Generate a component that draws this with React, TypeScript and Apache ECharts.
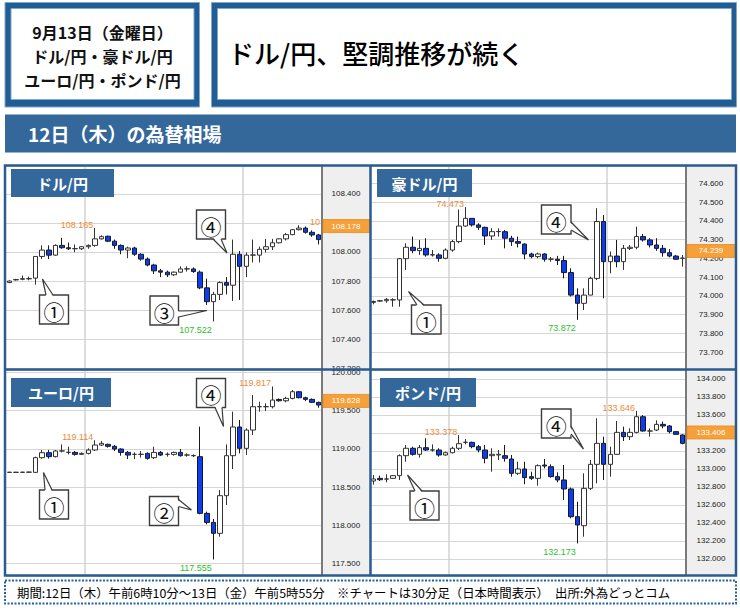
import React, { useEffect, useRef } from "react";
import * as echarts from "echarts";

// ---------------- DATA ----------------
const categories: string[] = [
  "12日 06:00", "12日 06:30", "12日 07:00", "12日 07:30", "12日 08:00", "12日 08:30", "12日 09:00", "12日 09:30",
  "12日 10:00", "12日 10:30", "12日 11:00", "12日 11:30", "12日 12:00", "12日 12:30", "12日 13:00", "12日 13:30",
  "12日 14:00", "12日 14:30", "12日 15:00", "12日 15:30", "12日 16:00", "12日 16:30", "12日 17:00", "12日 17:30",
  "12日 18:00", "12日 18:30", "12日 19:00", "12日 19:30", "12日 20:00", "12日 20:30", "12日 21:00", "12日 21:30",
  "12日 22:00", "12日 22:30", "12日 23:00", "12日 23:30", "13日 00:00", "13日 00:30", "13日 01:00", "13日 01:30",
  "13日 02:00", "13日 02:30", "13日 03:00", "13日 03:30", "13日 04:00", "13日 04:30", "13日 05:00", "13日 05:30",
];

// [open, close, low, high]
const usdJpy: number[][] = [
  [107.79, 107.8, 107.785, 107.805], [107.808, 107.81, 107.803, 107.815], [107.812, 107.816, 107.805, 107.838], [107.815, 107.817, 107.805, 107.83],
  [107.82, 107.969, 107.775, 107.972], [107.969, 108.013, 107.951, 108.045], [108.013, 107.978, 107.951, 108.045], [107.978, 108.045, 107.973, 108.052],
  [108.045, 108.029, 108.022, 108.097], [108.029, 108.022, 108.013, 108.065], [108.022, 108.023, 107.998, 108.051], [108.022, 108.036, 108.013, 108.04],
  [108.036, 108.045, 108.022, 108.052], [108.045, 108.09, 108.036, 108.165], [108.09, 108.105, 108.085, 108.115], [108.108, 108.074, 108.068, 108.112],
  [108.074, 108.045, 108.022, 108.085], [108.045, 108.013, 107.984, 108.052], [108.013, 108.027, 107.957, 108.036], [108.027, 107.984, 107.973, 108.036],
  [107.984, 107.951, 107.94, 107.991], [107.951, 107.91, 107.901, 107.962], [107.91, 107.87, 107.849, 107.919], [107.87, 107.861, 107.827, 107.883],
  [107.861, 107.843, 107.827, 107.872], [107.843, 107.861, 107.836, 107.865], [107.861, 107.883, 107.856, 107.901], [107.883, 107.884, 107.865, 107.901],
  [107.883, 107.865, 107.856, 107.894], [107.861, 107.753, 107.744, 107.872], [107.753, 107.658, 107.636, 107.816], [107.658, 107.708, 107.522, 107.726],
  [107.708, 107.789, 107.67, 107.798], [107.789, 107.771, 107.708, 107.827], [107.771, 107.984, 107.663, 108.085], [107.984, 107.901, 107.67, 108.007],
  [107.901, 107.978, 107.827, 107.996], [107.978, 107.979, 107.928, 108.085], [107.978, 108.018, 107.928, 108.036], [108.018, 108.036, 107.996, 108.09],
  [108.036, 108.063, 108.013, 108.09], [108.063, 108.09, 108.058, 108.094], [108.09, 108.119, 108.079, 108.13], [108.119, 108.153, 108.115, 108.157],
  [108.153, 108.164, 108.148, 108.184], [108.164, 108.135, 108.126, 108.175], [108.135, 108.117, 108.104, 108.148], [108.117, 108.085, 108.052, 108.124],
];

const audJpy: number[][] = [
  [73.965, 73.97, 73.955, 73.975], [73.972, 73.974, 73.968, 73.978], [73.974, 73.981, 73.963, 73.989], [73.978, 73.979, 73.942, 73.987],
  [73.978, 74.198, 73.942, 74.202], [74.198, 74.259, 74.138, 74.28], [74.259, 74.241, 74.227, 74.316], [74.241, 74.253, 74.218, 74.298],
  [74.253, 74.218, 74.209, 74.307], [74.218, 74.219, 74.209, 74.244], [74.218, 74.2, 74.182, 74.227], [74.2, 74.244, 74.195, 74.253],
  [74.244, 74.289, 74.235, 74.298], [74.289, 74.372, 74.28, 74.46], [74.372, 74.413, 74.369, 74.473], [74.413, 74.378, 74.369, 74.413],
  [74.378, 74.365, 74.351, 74.387], [74.365, 74.319, 74.271, 74.369], [74.319, 74.342, 74.298, 74.36], [74.342, 74.343, 74.316, 74.36],
  [74.342, 74.307, 74.253, 74.351], [74.307, 74.289, 74.266, 74.32], [74.289, 74.28, 74.258, 74.316], [74.276, 74.223, 74.195, 74.28],
  [74.223, 74.209, 74.2, 74.23], [74.209, 74.223, 74.2, 74.23], [74.223, 74.195, 74.182, 74.227], [74.195, 74.196, 74.182, 74.207],
  [74.195, 74.188, 74.164, 74.213], [74.188, 74.124, 74.093, 74.213], [74.124, 74.004, 73.996, 74.147], [74.004, 73.96, 73.872, 74.04],
  [73.96, 74.004, 73.924, 74.04], [74.004, 74.093, 74.004, 74.102], [74.093, 74.396, 74.084, 74.467], [74.396, 74.182, 73.987, 74.431],
  [74.182, 74.212, 74.12, 74.236], [74.212, 74.182, 74.152, 74.298], [74.182, 74.253, 74.138, 74.271], [74.253, 74.259, 74.244, 74.271],
  [74.259, 74.316, 74.248, 74.369], [74.316, 74.298, 74.289, 74.33], [74.298, 74.271, 74.258, 74.307], [74.271, 74.253, 74.24, 74.307],
  [74.253, 74.23, 74.209, 74.271], [74.23, 74.212, 74.205, 74.249], [74.212, 74.195, 74.191, 74.218], [74.2, 74.201, 74.156, 74.218],
];

const eurJpy: number[][] = [
  [118.694, 118.695, 118.69, 118.7], [118.694, 118.695, 118.69, 118.7], [118.694, 118.696, 118.688, 118.702], [118.696, 118.697, 118.69, 118.703],
  [118.694, 118.886, 118.685, 118.899], [118.886, 118.951, 118.873, 118.986], [118.951, 118.899, 118.873, 118.986], [118.899, 118.973, 118.89, 118.986],
  [118.973, 118.974, 118.955, 119.06], [118.955, 118.956, 118.929, 119.029], [118.955, 118.929, 118.912, 118.973], [118.929, 118.942, 118.922, 118.955],
  [118.942, 118.986, 118.929, 119.008], [118.986, 119.051, 118.973, 119.114], [119.051, 119.073, 119.038, 119.104], [119.06, 119.034, 119.017, 119.069],
  [119.034, 118.999, 118.973, 119.051], [118.999, 118.955, 118.912, 119.008], [118.955, 118.92, 118.868, 118.973], [118.929, 118.93, 118.868, 118.955],
  [118.929, 118.93, 118.886, 118.973], [118.942, 118.877, 118.86, 118.955], [118.886, 118.955, 118.868, 119.029], [118.955, 118.92, 118.907, 118.973],
  [118.929, 118.93, 118.899, 118.955], [118.929, 118.955, 118.912, 118.964], [118.955, 118.912, 118.899, 118.999], [118.92, 118.921, 118.899, 118.942],
  [118.912, 118.913, 118.895, 118.929], [118.899, 118.158, 118.145, 119.291], [118.158, 118.04, 118.014, 118.18], [118.04, 117.897, 117.555, 118.084],
  [117.897, 118.389, 117.853, 118.463], [118.389, 118.912, 118.267, 119.06], [118.912, 119.287, 118.737, 119.487], [119.287, 119.008, 118.942, 119.378],
  [119.008, 119.247, 118.92, 119.269], [119.247, 119.552, 119.182, 119.705], [119.552, 119.553, 119.487, 119.617], [119.552, 119.553, 119.495, 119.596],
  [119.552, 119.639, 119.53, 119.817], [119.647, 119.63, 119.617, 119.661], [119.63, 119.661, 119.609, 119.683], [119.661, 119.748, 119.648, 119.77],
  [119.748, 119.67, 119.661, 119.757], [119.67, 119.648, 119.626, 119.683], [119.648, 119.609, 119.6, 119.661], [119.609, 119.574, 119.539, 119.617],
];

const gbpJpy: number[][] = [
  [132.867, 132.889, 132.826, 132.933], [132.896, 132.881, 132.867, 132.926], [132.888, 132.889, 132.852, 132.941], [132.896, 132.926, 132.889, 132.933],
  [132.926, 133.148, 132.878, 133.163], [133.148, 133.23, 133.081, 133.267], [133.23, 133.163, 133.148, 133.248], [133.163, 133.237, 133.126, 133.267],
  [133.237, 133.211, 133.2, 133.341], [133.211, 133.212, 133.193, 133.274], [133.211, 133.156, 133.137, 133.23], [133.156, 133.181, 133.148, 133.193],
  [133.181, 133.23, 133.174, 133.248], [133.23, 133.281, 133.211, 133.378], [133.296, 133.297, 133.274, 133.333], [133.296, 133.248, 133.23, 133.304],
  [133.248, 133.211, 133.185, 133.267], [133.211, 133.119, 133.063, 133.267], [133.148, 133.163, 132.97, 133.23], [133.156, 133.163, 133.1, 133.211],
  [133.148, 133.119, 133.081, 133.267], [133.111, 132.952, 132.915, 133.156], [132.952, 133.0, 132.933, 133.081], [133.0, 132.904, 132.83, 133.081],
  [132.915, 132.896, 132.878, 132.97], [132.896, 133.037, 132.815, 133.052], [133.044, 133.033, 133.007, 133.111], [133.026, 132.915, 132.904, 133.052],
  [132.915, 132.878, 132.852, 132.963], [132.878, 132.778, 132.656, 133.044], [132.778, 132.47, 132.452, 132.793], [132.47, 132.378, 132.173, 132.637],
  [132.37, 132.785, 132.248, 132.952], [132.785, 133.052, 132.767, 133.1], [133.052, 133.285, 132.841, 133.563], [133.285, 133.052, 132.878, 133.359],
  [133.052, 133.163, 132.915, 133.248], [133.163, 133.407, 133.156, 133.533], [133.407, 133.359, 133.311, 133.47], [133.359, 133.407, 133.322, 133.452],
  [133.407, 133.581, 133.396, 133.646], [133.581, 133.422, 133.415, 133.6], [133.422, 133.423, 133.359, 133.452], [133.433, 133.496, 133.422, 133.541],
  [133.496, 133.478, 133.452, 133.526], [133.478, 133.415, 133.396, 133.489], [133.415, 133.385, 133.378, 133.422], [133.378, 133.285, 133.274, 133.385],
];

const pairTitles = ["ドル/円", "豪ドル/円", "ユーロ/円", "ポンド/円"];
const lastPrices = [108.178, 74.239, 119.628, 133.406];
const tickIntervals = [0.2, 0.1, 0.5, 0.2];
const axisMins = [107.195, 73.61, 117.339, 131.811];
const axisMaxs = [108.591, 74.692, 120.032, 134.1];
// [index, value, kind]  kind: hi / lo / cut
const priceMarks: [number, number, string][][] = [
  [[13, 108.165, "hi"], [31, 107.522, "lo"], [45, 108.184, "cut"]],
  [[14, 74.473, "hi"], [31, 73.872, "lo"]],
  [[13, 119.114, "hi"], [31, 117.555, "lo"], [40, 119.817, "hi"]],
  [[13, 133.378, "hi"], [31, 132.173, "lo"], [40, 133.646, "hi"]],
];
const seriesData = [usdJpy, audJpy, eurJpy, gbpJpy];

// ---------------- STYLE / LAYOUT ----------------
const FONT_JP = '"Noto Sans CJK JP", "Noto Sans", sans-serif';
const FONT_NUM = '"Liberation Sans", Arial, sans-serif';
const BLUE = "#34679a";
const FRAME = "#2a5c91";
const DARKBLUE = "#1f5d94";
const LIGHTEDGE = "#7fa6cb";
const ORANGE = "#f08a35";
const GREEN = "#2cc02c";

const grids = [
  { left: 6, top: 166, width: 316, height: 203 },
  { left: 370, top: 166, width: 316, height: 203 },
  { left: 6, top: 370, width: 316, height: 206 },
  { left: 370, top: 370, width: 316, height: 206 },
];
const axisAreas = [
  { x: 322, y: 166, w: 48, h: 203 },
  { x: 686, y: 166, w: 50, h: 203 },
  { x: 322, y: 370, w: 48, h: 206 },
  { x: 686, y: 370, w: 50, h: 206 },
];
const titleBoxes = [
  { x: 11, y: 169, w: 103, h: 28 },
  { x: 377, y: 169, w: 95, h: 28 },
  { x: 11, y: 378, w: 100, h: 29 },
  { x: 380, y: 378, w: 96, h: 29 },
];

type Callout = { box: number[]; side: string; b1: number; b2: number; tip: number[]; label: string };
const callouts: Callout[] = [
  { box: [39.5, 295, 29, 29], side: "top", b1: 46, b2: 53, tip: [42.5, 279], label: "①" },
  { box: [150, 296, 28.5, 29], side: "right", b1: 311, b2: 317, tip: [207, 310.5], label: "③" },
  { box: [196.5, 210, 29, 29], side: "bottom", b1: 213, b2: 221, tip: [227, 253], label: "④" },
  { box: [411.5, 305, 29.5, 29], side: "top", b1: 417, b2: 424, tip: [408.5, 291.5], label: "①" },
  { box: [541.5, 205, 29.5, 29], side: "right", b1: 222, b2: 230, tip: [588.5, 240], label: "④" },
  { box: [39.5, 490, 29, 29], side: "top", b1: 45, b2: 52, tip: [43.5, 472.5], label: "①" },
  { box: [149.5, 496.5, 29, 29], side: "right", b1: 499.5, b2: 506.5, tip: [191.5, 510], label: "②" },
  { box: [196.5, 378.5, 29, 29], side: "bottom", b1: 215, b2: 222, tip: [223.5, 426.5], label: "④" },
  { box: [410, 491, 29, 29], side: "top", b1: 415, b2: 422, tip: [407.5, 475], label: "①" },
  { box: [541.5, 409, 29.5, 29], side: "right", b1: 426, b2: 434, tip: [583.5, 449], label: "④" },
];

function calloutEls(c: Callout) {
  const [x, y, w, h] = c.box;
  let a: number[], b: number[], ai: number[], bi: number[];
  if (c.side === "top") { a = [c.b1, y]; b = [c.b2, y]; ai = [c.b1, y + 1.5]; bi = [c.b2, y + 1.5]; }
  else if (c.side === "bottom") { a = [c.b1, y + h]; b = [c.b2, y + h]; ai = [c.b1, y + h - 1.5]; bi = [c.b2, y + h - 1.5]; }
  else { a = [x + w, c.b1]; b = [x + w, c.b2]; ai = [x + w - 1.5, c.b1]; bi = [x + w - 1.5, c.b2]; }
  return [
    { type: "rect", z: 20, shape: { x, y, width: w, height: h }, style: { fill: "#fff", stroke: "#3c3c3c", lineWidth: 1.4 } },
    { type: "polygon", z: 21, shape: { points: [ai, c.tip, bi] }, style: { fill: "#fff", stroke: null } },
    { type: "polyline", z: 22, shape: { points: [a, c.tip, b] }, style: { stroke: "#3c3c3c", lineWidth: 1.2, fill: null } },
    {
      type: "text", z: 22,
      style: { text: c.label, x: x + w / 2, y: y + h / 2 + 1, align: "center", verticalAlign: "middle", fontSize: 21, fontFamily: FONT_JP, fill: "#111" },
    },
  ];
}

function baseGraphic(): any[] {
  const els: any[] = [];
  // header left box
  els.push({ type: "rect", z: 1, shape: { x: 5, y: 2.5, width: 194.5, height: 104.5 }, style: { fill: DARKBLUE, stroke: LIGHTEDGE, lineWidth: 1 } });
  els.push({ type: "rect", z: 1, shape: { x: 11, y: 8.5, width: 183, height: 91 }, style: { fill: "#fff", stroke: LIGHTEDGE, lineWidth: 1 } });
  const hl = ["9月13日（金曜日）", "ドル/円・豪ドル/円", "ユーロ/円・ポンド/円"];
  const hy = [31.5, 55.5, 79.5];
  hl.forEach((t, i) =>
    els.push({ type: "text", z: 2, style: { text: t, x: 102.5, y: hy[i], align: "center", verticalAlign: "middle", fontSize: 16, fontWeight: "bold", fontFamily: FONT_JP, fill: "#111" } })
  );
  // header right box
  els.push({ type: "rect", z: 1, shape: { x: 211.5, y: 2.5, width: 525, height: 104.5 }, style: { fill: DARKBLUE, stroke: LIGHTEDGE, lineWidth: 1 } });
  els.push({ type: "rect", z: 1, shape: { x: 217.5, y: 8.5, width: 514, height: 91 }, style: { fill: "#fff", stroke: LIGHTEDGE, lineWidth: 1 } });
  els.push({ type: "text", z: 2, style: { text: "ドル/円、堅調推移が続く", x: 228, y: 52, align: "left", verticalAlign: "middle", fontSize: 26, fontWeight: 500, fontFamily: FONT_JP, fill: "#000" } });
  // banner
  els.push({ type: "rect", z: 1, shape: { x: 5, y: 114.5, width: 731, height: 38 }, style: { fill: BLUE } });
  els.push({ type: "text", z: 2, style: { text: "12日（木）の為替相場", x: 28, y: 133.5, align: "left", verticalAlign: "middle", fontSize: 19, fontWeight: "bold", fontFamily: FONT_JP, fill: "#fff" } });
  // axis areas
  axisAreas.forEach((a) => {
    els.push({ type: "rect", z: -1, shape: { x: a.x, y: a.y, width: a.w, height: a.h }, style: { fill: "#efefef" } });
    els.push({ type: "line", z: 3, shape: { x1: a.x, y1: a.y, x2: a.x, y2: a.y + a.h }, style: { stroke: "#7a7a7a", lineWidth: 2 } });
  });
  // frame
  els.push({ type: "rect", z: 30, shape: { x: 5, y: 165.5, width: 731, height: 410 }, style: { fill: null, stroke: FRAME, lineWidth: 2.5 } });
  els.push({ type: "line", z: 30, shape: { x1: 5, y1: 369.5, x2: 736, y2: 369.5 }, style: { stroke: FRAME, lineWidth: 2.5 } });
  els.push({ type: "line", z: 30, shape: { x1: 370.5, y1: 165.5, x2: 370.5, y2: 575.5 }, style: { stroke: FRAME, lineWidth: 2.5 } });
  // panel titles
  titleBoxes.forEach((t, i) => {
    els.push({ type: "rect", z: 25, shape: { x: t.x, y: t.y, width: t.w, height: t.h }, style: { fill: BLUE } });
    els.push({
      type: "text", z: 26,
      style: { text: pairTitles[i], x: t.x + t.w / 2, y: t.y + t.h / 2, align: "center", verticalAlign: "middle", fontSize: 15, fontWeight: "bold", fontFamily: FONT_JP, fill: "#fff" },
    });
  });
  // callouts
  callouts.forEach((c) => els.push(...calloutEls(c)));
  // footer
  els.push({ type: "rect", z: 1, shape: { x: 5, y: 580.5, width: 731, height: 23 }, style: { fill: "#fff", stroke: "#2462a3", lineWidth: 2, lineDash: [2, 1.5] } });
  els.push({
    type: "text", z: 2,
    style: {
      text: "期間:12日（木）午前6時10分～13日（金）午前5時55分　※チャートは30分足（日本時間表示）　出所:外為どっとコム",
      x: 17, y: 592.5, align: "left", verticalAlign: "middle", fontSize: 12.4, fontFamily: FONT_JP, fill: "#000",
    },
  });
  return els;
}

function buildOption(): any {
  const xAxis = grids.map((_, i) => ({
    type: "category",
    gridIndex: i,
    data: categories,
    boundaryGap: true,
    axisLine: { show: false },
    axisTick: { show: false },
    axisLabel: { show: false },
    splitLine: { show: true, interval: (idx: number) => idx === 12 || idx === 36, lineStyle: { color: "#d2d2d2", width: 1.5 } },
  }));
  const yAxis = grids.map((_, i) => ({
    type: "value",
    gridIndex: i,
    position: "right",
    min: axisMins[i],
    max: axisMaxs[i],
    minInterval: tickIntervals[i],
    maxInterval: tickIntervals[i],
    scale: true,
    axisLine: { show: false },
    axisTick: { show: false },
    splitLine: { show: true, lineStyle: { color: "#d6d6d6", width: 1 } },
    axisLabel: {
      show: true,
      margin: i % 2 === 0 ? 24 : 25,
      align: "center",
      fontSize: 8,
      fontFamily: FONT_NUM,
      color: "#222",
      formatter: (v: number) => {
        const k = v / tickIntervals[i];
        return Math.abs(k - Math.round(k)) < 1e-6 ? v.toFixed(3) : "";
      },
    },
  }));
  const series = seriesData.map((d, i) => ({
    type: "candlestick",
    xAxisIndex: i,
    yAxisIndex: i,
    data: d,
    barWidth: 5,
    itemStyle: { color: "#ffffff", color0: "#0d3df2", borderColor: "#333333", borderColor0: "#1a1a1a", borderWidth: 1 },
    markPoint: {
      symbol: "circle",
      symbolSize: 1,
      itemStyle: { color: "rgba(0,0,0,0)" },
      data: priceMarks[i].map(([idx, val, kind]) => ({
        coord: [idx, val],
        value: val,
        label: {
          show: true,
          position: kind === "cut" ? "right" : "left",
          distance: kind === "cut" ? 4 : 1,
          offset: kind === "lo" ? [0, 8.5] : [0, -3],
          color: kind === "lo" ? GREEN : ORANGE,
          fontSize: 9,
          fontFamily: FONT_NUM,
          formatter: (p: any) => Number(p.value).toFixed(3),
          ...(kind === "cut" ? { width: 13, overflow: "truncate", ellipsis: "" } : {}),
        },
      })),
    },
  }));
  return {
    animation: false,
    backgroundColor: "#ffffff",
    grid: grids,
    xAxis,
    yAxis,
    series,
    graphic: baseGraphic(),
  };
}

export default function App() {
  const ref = useRef<HTMLDivElement>(null);
  useEffect(() => {
    if (!ref.current) return;
    const chart = echarts.init(ref.current, undefined, { renderer: "svg" });
    chart.setOption(buildOption());
    const markers: any[] = [];
    lastPrices.forEach((p, i) => {
      const py = chart.convertToPixel({ yAxisIndex: i } as any, p) as unknown as number;
      const a = axisAreas[i];
      markers.push({ type: "rect", z: 6, shape: { x: a.x + 1, y: py - 6.5, width: a.w - 1, height: 13 }, style: { fill: "#f6a03a", stroke: "#e98a1e", lineWidth: 0.8 } });
      markers.push({ type: "text", z: 7, style: { text: p.toFixed(3), x: a.x + a.w / 2, y: py, align: "center", verticalAlign: "middle", fontSize: 8, fontFamily: FONT_NUM, fill: "#fff" } });
    });
    chart.setOption({ graphic: [...baseGraphic(), ...markers] });
    return () => chart.dispose();
  }, []);
  return <div ref={ref} style={{ position: "absolute", left: 0, top: 0, width: 740, height: 611 }} />;
}
